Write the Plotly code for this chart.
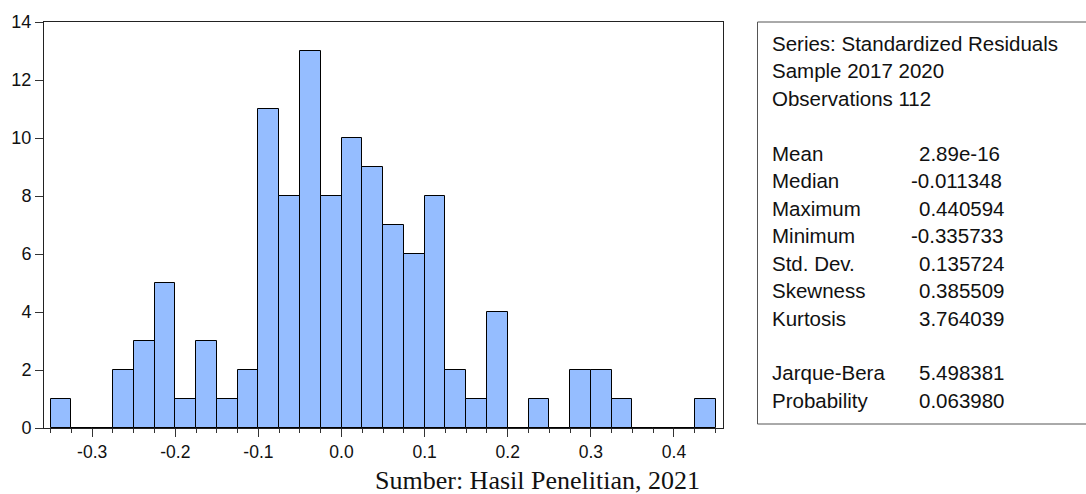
import plotly.graph_objects as go

# ---- data ----
bin_start = -0.35
bin_width = 0.025
counts = [1, 0, 0, 2, 3, 5, 1, 3, 1, 2, 11, 8, 13, 8, 10, 9, 7, 6, 8, 2, 1, 4, 0, 1, 0, 2, 2, 1, 0, 0, 0, 1]
x_tick_vals = [-0.3, -0.2, -0.1, 0.0, 0.1, 0.2, 0.3, 0.4]
x_tick_text = ["-0.3", "-0.2", "-0.1", "0.0", "0.1", "0.2", "0.3", "0.4"]
y_tick_vals = [0, 2, 4, 6, 8, 10, 12, 14]

header_lines = ["Series: Standardized Residuals", "Sample 2017 2020", "Observations 112"]
stat_labels = ["Mean", "Median", "Maximum", "Minimum", "Std. Dev.", "Skewness", "Kurtosis"]
stat_values = ["2.89e-16", "-0.011348", "0.440594", "-0.335733", "0.135724", "0.385509", "3.764039"]
test_labels = ["Jarque-Bera", "Probability"]
test_values = ["5.498381", "0.063980"]
caption = "Sumber: Hasil Penelitian, 2021"

centers = [bin_start + bin_width * (i + 0.5) for i in range(len(counts))]
minor_ticks = [round(bin_start + bin_width * i, 4) for i in range(len(counts) + 1)]

W, H = 1086, 494
L, R, T, B = 44, 363, 22, 66
PW, PH = W - L - R, H - T - B


def px(X):
    return (X - L) / PW


def py(Y):
    return (H - B - Y) / PH


fig = go.Figure()
fig.add_trace(go.Bar(
    x=centers, y=counts, width=bin_width,
    marker=dict(color="#95BDFF", line=dict(color="#000000", width=1)),
    showlegend=False, hoverinfo="skip",
))

fig.update_layout(
    width=W, height=H,
    margin=dict(l=L, r=R, t=T, b=B, pad=0, autoexpand=False),
    paper_bgcolor="white", plot_bgcolor="white",
    font=dict(family="Liberation Sans, Arial, sans-serif", color="#111111"),
    bargap=0,
    xaxis=dict(
        range=[-0.358, 0.459], showgrid=False, zeroline=False,
        tickvals=x_tick_vals, ticktext=x_tick_text,
        ticks="outside", ticklen=8, tickwidth=1, tickcolor="#333333",
        tickfont=dict(size=17.5, color="#111111"),
        showline=True, linecolor="#222222", linewidth=1, mirror=True,
        minor=dict(tickvals=minor_ticks, ticks="outside", ticklen=4, tickwidth=1, tickcolor="#333333", showgrid=False),
    ),
    yaxis=dict(
        range=[0, 14], showgrid=False, zeroline=False,
        tickvals=y_tick_vals, ticks="outside", ticklen=8, tickwidth=1, tickcolor="#333333",
        tickfont=dict(size=18, color="#111111"),
        showline=True, linecolor="#222222", linewidth=1, mirror=True,
    ),
)

# stats box
fig.add_shape(type="rect", xref="paper", yref="paper",
              x0=px(757.5), x1=px(1095), y0=py(424), y1=py(22),
              line=dict(color="#555555", width=1), fillcolor="rgba(0,0,0,0)")

rows = [(t, None) for t in header_lines] + [(None, None)] + \
       list(zip(stat_labels, stat_values)) + [(None, None)] + list(zip(test_labels, test_values))

y0, dy = 43.5, 27.45
fs = 20.5
for i, (lab, val) in enumerate(rows):
    if lab is None:
        continue
    Y = y0 + i * dy
    fig.add_annotation(xref="paper", yref="paper", x=px(770), y=py(Y), text=lab,
                       showarrow=False, xanchor="left", yanchor="middle",
                       font=dict(size=fs, color="#111111"))
    if val is not None:
        Xv = 916.5 if not val.startswith("-") else 909.5
        fig.add_annotation(xref="paper", yref="paper", x=px(Xv), y=py(Y), text=val,
                           showarrow=False, xanchor="left", yanchor="middle",
                           font=dict(size=fs, color="#111111"))

fig.add_annotation(xref="paper", yref="paper", x=px(537), y=py(480), text=caption,
                   showarrow=False, xanchor="center", yanchor="middle",
                   font=dict(family="Liberation Serif, Times New Roman, serif", size=26, color="#111111"))

fig.write_html("out.html", config={"displayModeBar": False},
               post_script="document.body.style.margin='0';document.body.style.padding='0';")
